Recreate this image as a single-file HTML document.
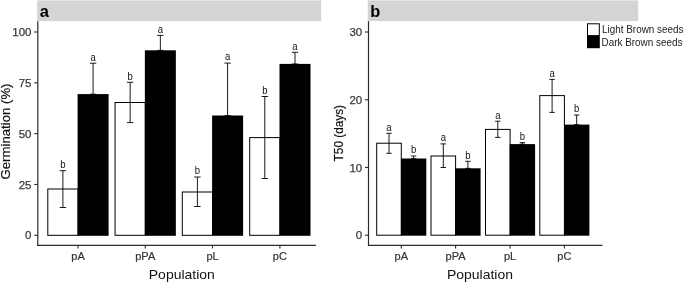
<!DOCTYPE html>
<html lang="en"><head><meta charset="utf-8"><title>Germination and T50 by population</title>
<style>
html,body{margin:0;padding:0;background:#fff;}
body{width:685px;height:282px;overflow:hidden;}
svg{display:block;font-family:"Liberation Sans", Arial, sans-serif;}
</style></head>
<body>
<svg width="685" height="282" viewBox="0 0 685 282">
<rect x="0" y="0" width="685" height="282" fill="#fff"/>
<rect x="37.2" y="0.4" width="284.00" height="20.7" fill="#d4d4d4"/>
<rect x="367.8" y="0.4" width="270.40" height="20.7" fill="#d4d4d4"/>
<text x="39.70" y="16.70" font-size="16.4" text-anchor="start" fill="#000" font-weight="bold" >a</text>
<text x="370.20" y="16.70" font-size="16.4" text-anchor="start" fill="#000" font-weight="bold" >b</text>
<rect x="47.80" y="189.00" width="30.20" height="46.30" fill="#fff" stroke="#000" stroke-width="1"/>
<rect x="77.60" y="94.10" width="31.00" height="141.70" fill="#000"/>
<rect x="115.05" y="102.50" width="30.20" height="132.80" fill="#fff" stroke="#000" stroke-width="1"/>
<rect x="144.85" y="50.30" width="31.00" height="185.50" fill="#000"/>
<rect x="182.30" y="192.00" width="30.20" height="43.30" fill="#fff" stroke="#000" stroke-width="1"/>
<rect x="212.10" y="115.50" width="31.00" height="120.30" fill="#000"/>
<rect x="249.70" y="137.60" width="30.20" height="97.70" fill="#fff" stroke="#000" stroke-width="1"/>
<rect x="279.50" y="63.90" width="31.00" height="171.90" fill="#000"/>
<line x1="62.90" y1="170.70" x2="62.90" y2="207.50" stroke="#000" stroke-width="0.9"/>
<line x1="59.70" y1="170.70" x2="66.10" y2="170.70" stroke="#000" stroke-width="0.9"/>
<line x1="59.70" y1="207.50" x2="66.10" y2="207.50" stroke="#000" stroke-width="0.9"/>
<line x1="93.10" y1="63.20" x2="93.10" y2="94.20" stroke="#000" stroke-width="0.9"/>
<line x1="89.90" y1="63.20" x2="96.30" y2="63.20" stroke="#000" stroke-width="0.9"/>
<line x1="89.90" y1="94.20" x2="96.30" y2="94.20" stroke="#000" stroke-width="0.9"/>
<line x1="130.15" y1="82.30" x2="130.15" y2="122.60" stroke="#000" stroke-width="0.9"/>
<line x1="126.95" y1="82.30" x2="133.35" y2="82.30" stroke="#000" stroke-width="0.9"/>
<line x1="126.95" y1="122.60" x2="133.35" y2="122.60" stroke="#000" stroke-width="0.9"/>
<line x1="160.35" y1="35.40" x2="160.35" y2="50.40" stroke="#000" stroke-width="0.9"/>
<line x1="157.15" y1="35.40" x2="163.55" y2="35.40" stroke="#000" stroke-width="0.9"/>
<line x1="157.15" y1="50.40" x2="163.55" y2="50.40" stroke="#000" stroke-width="0.9"/>
<line x1="197.40" y1="177.00" x2="197.40" y2="206.50" stroke="#000" stroke-width="0.9"/>
<line x1="194.20" y1="177.00" x2="200.60" y2="177.00" stroke="#000" stroke-width="0.9"/>
<line x1="194.20" y1="206.50" x2="200.60" y2="206.50" stroke="#000" stroke-width="0.9"/>
<line x1="227.60" y1="63.10" x2="227.60" y2="115.60" stroke="#000" stroke-width="0.9"/>
<line x1="224.40" y1="63.10" x2="230.80" y2="63.10" stroke="#000" stroke-width="0.9"/>
<line x1="224.40" y1="115.60" x2="230.80" y2="115.60" stroke="#000" stroke-width="0.9"/>
<line x1="264.80" y1="96.50" x2="264.80" y2="178.50" stroke="#000" stroke-width="0.9"/>
<line x1="261.60" y1="96.50" x2="268.00" y2="96.50" stroke="#000" stroke-width="0.9"/>
<line x1="261.60" y1="178.50" x2="268.00" y2="178.50" stroke="#000" stroke-width="0.9"/>
<line x1="295.00" y1="52.30" x2="295.00" y2="64.00" stroke="#000" stroke-width="0.9"/>
<line x1="291.80" y1="52.30" x2="298.20" y2="52.30" stroke="#000" stroke-width="0.9"/>
<line x1="291.80" y1="64.00" x2="298.20" y2="64.00" stroke="#000" stroke-width="0.9"/>
<text x="62.90" y="168.00" font-size="10.2" text-anchor="middle" fill="#111" font-weight="normal" textLength="5.3" lengthAdjust="spacingAndGlyphs">b</text>
<text x="93.10" y="60.50" font-size="10.2" text-anchor="middle" fill="#111" font-weight="normal" textLength="5.3" lengthAdjust="spacingAndGlyphs">a</text>
<text x="130.15" y="79.60" font-size="10.2" text-anchor="middle" fill="#111" font-weight="normal" textLength="5.3" lengthAdjust="spacingAndGlyphs">b</text>
<text x="160.35" y="32.70" font-size="10.2" text-anchor="middle" fill="#111" font-weight="normal" textLength="5.3" lengthAdjust="spacingAndGlyphs">a</text>
<text x="197.40" y="174.30" font-size="10.2" text-anchor="middle" fill="#111" font-weight="normal" textLength="5.3" lengthAdjust="spacingAndGlyphs">b</text>
<text x="227.60" y="60.40" font-size="10.2" text-anchor="middle" fill="#111" font-weight="normal" textLength="5.3" lengthAdjust="spacingAndGlyphs">a</text>
<text x="264.80" y="93.80" font-size="10.2" text-anchor="middle" fill="#111" font-weight="normal" textLength="5.3" lengthAdjust="spacingAndGlyphs">b</text>
<text x="295.00" y="49.60" font-size="10.2" text-anchor="middle" fill="#111" font-weight="normal" textLength="5.3" lengthAdjust="spacingAndGlyphs">a</text>
<line x1="37.80" y1="21.20" x2="37.80" y2="245.95" stroke="#2b2b2b" stroke-width="1.2"/>
<line x1="37.20" y1="245.40" x2="316.00" y2="245.40" stroke="#2b2b2b" stroke-width="1.2"/>
<line x1="34.20" y1="235.30" x2="37.80" y2="235.30" stroke="#2b2b2b" stroke-width="1.1"/>
<text x="31.50" y="239.40" font-size="11.5" text-anchor="end" fill="#3a3a3a" font-weight="normal" stroke="#3a3a3a" stroke-width="0.25">0</text>
<line x1="34.20" y1="184.48" x2="37.80" y2="184.48" stroke="#2b2b2b" stroke-width="1.1"/>
<text x="31.50" y="188.58" font-size="11.5" text-anchor="end" fill="#3a3a3a" font-weight="normal" stroke="#3a3a3a" stroke-width="0.25">25</text>
<line x1="34.20" y1="133.65" x2="37.80" y2="133.65" stroke="#2b2b2b" stroke-width="1.1"/>
<text x="31.50" y="137.75" font-size="11.5" text-anchor="end" fill="#3a3a3a" font-weight="normal" stroke="#3a3a3a" stroke-width="0.25">50</text>
<line x1="34.20" y1="82.83" x2="37.80" y2="82.83" stroke="#2b2b2b" stroke-width="1.1"/>
<text x="31.50" y="86.93" font-size="11.5" text-anchor="end" fill="#3a3a3a" font-weight="normal" stroke="#3a3a3a" stroke-width="0.25">75</text>
<line x1="34.20" y1="32.00" x2="37.80" y2="32.00" stroke="#2b2b2b" stroke-width="1.1"/>
<text x="31.50" y="36.10" font-size="11.5" text-anchor="end" fill="#3a3a3a" font-weight="normal" stroke="#3a3a3a" stroke-width="0.25">100</text>
<line x1="78.00" y1="245.40" x2="78.00" y2="248.40" stroke="#2b2b2b" stroke-width="1.1"/>
<text x="78.00" y="259.70" font-size="11.0" text-anchor="middle" fill="#333" font-weight="normal" stroke="#333" stroke-width="0.2">pA</text>
<line x1="145.25" y1="245.40" x2="145.25" y2="248.40" stroke="#2b2b2b" stroke-width="1.1"/>
<text x="145.25" y="259.70" font-size="11.0" text-anchor="middle" fill="#333" font-weight="normal" stroke="#333" stroke-width="0.2">pPA</text>
<line x1="212.50" y1="245.40" x2="212.50" y2="248.40" stroke="#2b2b2b" stroke-width="1.1"/>
<text x="212.50" y="259.70" font-size="11.0" text-anchor="middle" fill="#333" font-weight="normal" stroke="#333" stroke-width="0.2">pL</text>
<line x1="279.90" y1="245.40" x2="279.90" y2="248.40" stroke="#2b2b2b" stroke-width="1.1"/>
<text x="279.90" y="259.70" font-size="11.0" text-anchor="middle" fill="#333" font-weight="normal" stroke="#333" stroke-width="0.2">pC</text>
<text x="181.80" y="278.60" font-size="12.7" text-anchor="middle" fill="#111" font-weight="normal" textLength="66.0" lengthAdjust="spacingAndGlyphs">Population</text>
<text transform="translate(10.40,131.50) rotate(-90)" font-size="13.2" text-anchor="middle" fill="#111" stroke="#111" stroke-width="0.18">Germination (%)</text>
<rect x="376.70" y="143.20" width="24.60" height="92.00" fill="#fff" stroke="#000" stroke-width="1"/>
<rect x="400.90" y="158.50" width="25.40" height="77.20" fill="#000"/>
<rect x="431.00" y="156.00" width="24.60" height="79.20" fill="#fff" stroke="#000" stroke-width="1"/>
<rect x="455.20" y="168.30" width="25.40" height="67.40" fill="#000"/>
<rect x="485.50" y="129.40" width="24.60" height="105.80" fill="#fff" stroke="#000" stroke-width="1"/>
<rect x="509.70" y="144.10" width="25.40" height="91.60" fill="#000"/>
<rect x="539.80" y="95.60" width="24.60" height="139.60" fill="#fff" stroke="#000" stroke-width="1"/>
<rect x="564.00" y="124.60" width="25.40" height="111.10" fill="#000"/>
<line x1="389.00" y1="133.30" x2="389.00" y2="153.30" stroke="#000" stroke-width="0.9"/>
<line x1="386.30" y1="133.30" x2="391.70" y2="133.30" stroke="#000" stroke-width="0.9"/>
<line x1="386.30" y1="153.30" x2="391.70" y2="153.30" stroke="#000" stroke-width="0.9"/>
<line x1="413.60" y1="156.00" x2="413.60" y2="158.60" stroke="#000" stroke-width="0.9"/>
<line x1="410.90" y1="156.00" x2="416.30" y2="156.00" stroke="#000" stroke-width="0.9"/>
<line x1="410.90" y1="158.60" x2="416.30" y2="158.60" stroke="#000" stroke-width="0.9"/>
<line x1="443.30" y1="143.90" x2="443.30" y2="167.50" stroke="#000" stroke-width="0.9"/>
<line x1="440.60" y1="143.90" x2="446.00" y2="143.90" stroke="#000" stroke-width="0.9"/>
<line x1="440.60" y1="167.50" x2="446.00" y2="167.50" stroke="#000" stroke-width="0.9"/>
<line x1="467.90" y1="161.30" x2="467.90" y2="168.40" stroke="#000" stroke-width="0.9"/>
<line x1="465.20" y1="161.30" x2="470.60" y2="161.30" stroke="#000" stroke-width="0.9"/>
<line x1="465.20" y1="168.40" x2="470.60" y2="168.40" stroke="#000" stroke-width="0.9"/>
<line x1="497.80" y1="121.20" x2="497.80" y2="137.40" stroke="#000" stroke-width="0.9"/>
<line x1="495.10" y1="121.20" x2="500.50" y2="121.20" stroke="#000" stroke-width="0.9"/>
<line x1="495.10" y1="137.40" x2="500.50" y2="137.40" stroke="#000" stroke-width="0.9"/>
<line x1="522.40" y1="142.60" x2="522.40" y2="144.20" stroke="#000" stroke-width="0.9"/>
<line x1="519.70" y1="142.60" x2="525.10" y2="142.60" stroke="#000" stroke-width="0.9"/>
<line x1="519.70" y1="144.20" x2="525.10" y2="144.20" stroke="#000" stroke-width="0.9"/>
<line x1="552.10" y1="79.40" x2="552.10" y2="112.40" stroke="#000" stroke-width="0.9"/>
<line x1="549.40" y1="79.40" x2="554.80" y2="79.40" stroke="#000" stroke-width="0.9"/>
<line x1="549.40" y1="112.40" x2="554.80" y2="112.40" stroke="#000" stroke-width="0.9"/>
<line x1="576.70" y1="115.00" x2="576.70" y2="124.70" stroke="#000" stroke-width="0.9"/>
<line x1="574.00" y1="115.00" x2="579.40" y2="115.00" stroke="#000" stroke-width="0.9"/>
<line x1="574.00" y1="124.70" x2="579.40" y2="124.70" stroke="#000" stroke-width="0.9"/>
<text x="389.00" y="130.60" font-size="10.2" text-anchor="middle" fill="#111" font-weight="normal" textLength="5.3" lengthAdjust="spacingAndGlyphs">a</text>
<text x="413.60" y="153.30" font-size="10.2" text-anchor="middle" fill="#111" font-weight="normal" textLength="5.3" lengthAdjust="spacingAndGlyphs">b</text>
<text x="443.30" y="141.20" font-size="10.2" text-anchor="middle" fill="#111" font-weight="normal" textLength="5.3" lengthAdjust="spacingAndGlyphs">a</text>
<text x="467.90" y="158.60" font-size="10.2" text-anchor="middle" fill="#111" font-weight="normal" textLength="5.3" lengthAdjust="spacingAndGlyphs">b</text>
<text x="497.80" y="118.50" font-size="10.2" text-anchor="middle" fill="#111" font-weight="normal" textLength="5.3" lengthAdjust="spacingAndGlyphs">a</text>
<text x="522.40" y="139.90" font-size="10.2" text-anchor="middle" fill="#111" font-weight="normal" textLength="5.3" lengthAdjust="spacingAndGlyphs">b</text>
<text x="552.10" y="76.70" font-size="10.2" text-anchor="middle" fill="#111" font-weight="normal" textLength="5.3" lengthAdjust="spacingAndGlyphs">a</text>
<text x="576.70" y="112.30" font-size="10.2" text-anchor="middle" fill="#111" font-weight="normal" textLength="5.3" lengthAdjust="spacingAndGlyphs">b</text>
<line x1="368.50" y1="21.20" x2="368.50" y2="245.95" stroke="#2b2b2b" stroke-width="1.2"/>
<line x1="367.90" y1="245.40" x2="602.40" y2="245.40" stroke="#2b2b2b" stroke-width="1.2"/>
<line x1="364.90" y1="235.20" x2="368.50" y2="235.20" stroke="#2b2b2b" stroke-width="1.1"/>
<text x="362.20" y="239.30" font-size="11.5" text-anchor="end" fill="#3a3a3a" font-weight="normal" stroke="#3a3a3a" stroke-width="0.25">0</text>
<line x1="364.90" y1="167.47" x2="368.50" y2="167.47" stroke="#2b2b2b" stroke-width="1.1"/>
<text x="362.20" y="171.57" font-size="11.5" text-anchor="end" fill="#3a3a3a" font-weight="normal" stroke="#3a3a3a" stroke-width="0.25">10</text>
<line x1="364.90" y1="99.74" x2="368.50" y2="99.74" stroke="#2b2b2b" stroke-width="1.1"/>
<text x="362.20" y="103.84" font-size="11.5" text-anchor="end" fill="#3a3a3a" font-weight="normal" stroke="#3a3a3a" stroke-width="0.25">20</text>
<line x1="364.90" y1="32.01" x2="368.50" y2="32.01" stroke="#2b2b2b" stroke-width="1.1"/>
<text x="362.20" y="36.11" font-size="11.5" text-anchor="end" fill="#3a3a3a" font-weight="normal" stroke="#3a3a3a" stroke-width="0.25">30</text>
<line x1="401.30" y1="245.40" x2="401.30" y2="248.40" stroke="#2b2b2b" stroke-width="1.1"/>
<text x="401.30" y="259.70" font-size="11.0" text-anchor="middle" fill="#333" font-weight="normal" stroke="#333" stroke-width="0.2">pA</text>
<line x1="455.60" y1="245.40" x2="455.60" y2="248.40" stroke="#2b2b2b" stroke-width="1.1"/>
<text x="455.60" y="259.70" font-size="11.0" text-anchor="middle" fill="#333" font-weight="normal" stroke="#333" stroke-width="0.2">pPA</text>
<line x1="510.10" y1="245.40" x2="510.10" y2="248.40" stroke="#2b2b2b" stroke-width="1.1"/>
<text x="510.10" y="259.70" font-size="11.0" text-anchor="middle" fill="#333" font-weight="normal" stroke="#333" stroke-width="0.2">pL</text>
<line x1="564.40" y1="245.40" x2="564.40" y2="248.40" stroke="#2b2b2b" stroke-width="1.1"/>
<text x="564.40" y="259.70" font-size="11.0" text-anchor="middle" fill="#333" font-weight="normal" stroke="#333" stroke-width="0.2">pC</text>
<text x="480.00" y="278.60" font-size="12.7" text-anchor="middle" fill="#111" font-weight="normal" textLength="66.0" lengthAdjust="spacingAndGlyphs">Population</text>
<text transform="translate(342.60,133.20) rotate(-90)" font-size="12.8" text-anchor="middle" fill="#111" textLength="56.4" lengthAdjust="spacingAndGlyphs" stroke="#111" stroke-width="0.2">T50 (days)</text>
<rect x="587.5" y="23.8" width="11.8" height="11.8" fill="#fff" stroke="#000" stroke-width="1"/>
<rect x="587.0" y="35.9" width="12.8" height="12.3" fill="#000"/>
<text x="602.10" y="32.70" font-size="10.4" text-anchor="start" fill="#222" font-weight="normal" textLength="81.3" lengthAdjust="spacingAndGlyphs">Light Brown seeds</text>
<text x="601.50" y="46.30" font-size="10.4" text-anchor="start" fill="#222" font-weight="normal" textLength="80.9" lengthAdjust="spacingAndGlyphs">Dark Brown seeds</text>
</svg>
</body></html>
